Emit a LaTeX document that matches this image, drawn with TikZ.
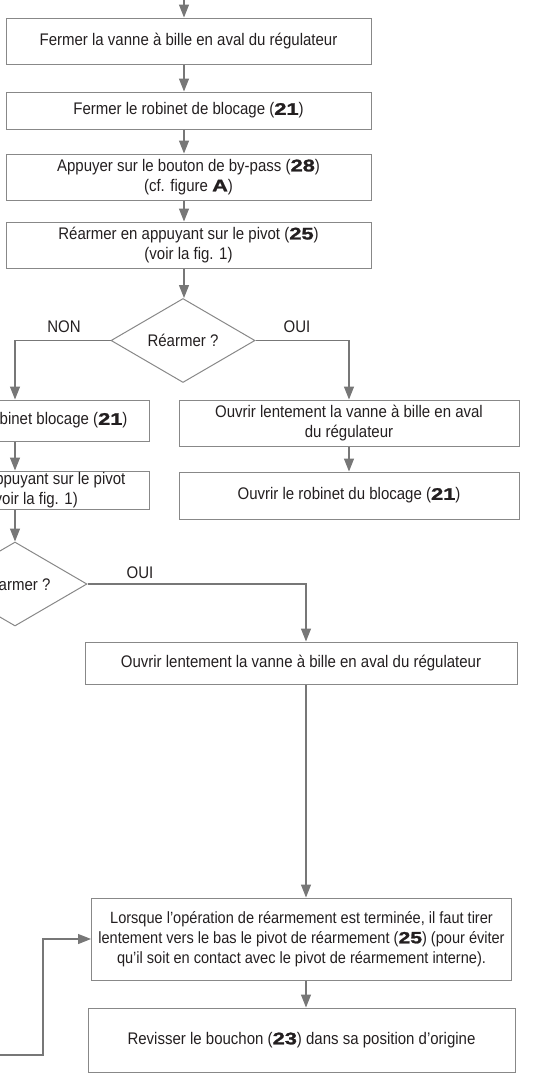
\documentclass[tikz,border=0pt]{standalone}
\usepackage{fontspec}
\setmainfont{Liberation Sans}[FakeStretch=0.893]
\newfontfamily\numfont{Liberation Sans}[FakeStretch=1.3,BoldFeatures={FakeBold=1.5}]
\usetikzlibrary{arrows.meta,shapes.geometric}
\newcommand{\nb}[1]{{\numfont\bfseries #1}}
\definecolor{linec}{HTML}{777777}
\definecolor{borderc}{HTML}{888888}
\definecolor{txtc}{HTML}{231F20}
\begin{document}
\begin{tikzpicture}[x=1pt,y=-1pt,
  txt/.style={text=txtc,font=\fontsize{16.8}{20}\selectfont},
  box/.style={txt,draw=borderc,line width=1pt,inner sep=0pt,align=center},
  dec/.style={txt,draw=borderc,line width=1pt,inner sep=0pt,diamond,minimum width=144pt,minimum height=84pt},
  arr/.style={draw=linec,line width=1.1pt,-{Triangle[length=13pt,width=10pt]}},
  lbl/.style={txt,inner sep=0pt}]
\useasboundingbox (0,0) rectangle (533,1082);
\clip (0,0) rectangle (533,1082);
% main column
\node[box,minimum width=365pt,minimum height=46pt] (b1) at (188.5,41) {Fermer la vanne à bille en aval du régulateur};
\node[box,minimum width=365pt,minimum height=37pt] (b2) at (188.5,110.5) {Fermer le robinet de blocage (\nb{21})};
\node[box,minimum width=365pt,minimum height=46pt] (b3) at (188.5,177) {Appuyer sur le bouton de by-pass (\nb{28})\\(cf. figure \nb{A})};
\node[box,minimum width=365pt,minimum height=46pt] (b4) at (188.5,245) {Réarmer en appuyant sur le pivot (\nb{25})\\(voir la fig. 1)};
\node[dec] (d1) at (183,340.5) {Réarmer ?};
\coordinate (top) at (184,-2);
% left column
\node[box,minimum width=246pt,minimum height=41pt,anchor=east] (lb1) at (150,420.5) {Ouvrir le robinet blocage (\nb{21})};
\node[box,minimum width=270pt,minimum height=38pt,anchor=east] (lb2) at (150,490) {Réarmer en appuyant sur le pivot\\(\nb{25}) (voir la fig. 1)};
\node[dec] (ld) at (15,584) {Réarmer ?};
% right column
\node[box,minimum width=340pt,minimum height=46pt] (rb1) at (349,423) {Ouvrir lentement la vanne à bille en aval\\du régulateur};
\node[box,minimum width=340pt,minimum height=47pt] (rb2) at (349,495.5) {Ouvrir le robinet du blocage (\nb{21})};
% lower part
\node[box,minimum width=432pt,minimum height=42pt] (b5) at (301,663) {Ouvrir lentement la vanne à bille en aval du régulateur};
\node[box,minimum width=420pt,minimum height=82pt,font=\fontsize{16.3}{20}\selectfont] (b6) at (301.5,939) {Lorsque l’opération de réarmement est terminée, il faut tirer\\lentement vers le bas le pivot de réarmement (\nb{25}) (pour éviter\\qu’il soit en contact avec le pivot de réarmement interne).};
\node[box,minimum width=427pt,minimum height=64pt] (b7) at (301.5,1040) {Revisser le bouchon (\nb{23}) dans sa position d’origine};
\coordinate (vc) at (306,700);
\coordinate (lin) at (-2,1055);
% labels
\node[lbl] (non) at (64,327) {NON};
\node[lbl] (oui1) at (297,327) {OUI};
\node[lbl] (oui2) at (140,572.5) {OUI};
% connectors
\draw[arr] (top) -- (top |- b1.north);
\draw[arr] (b1.south -| top) -- (b2.north -| top);
\draw[arr] (b2.south -| top) -- (b3.north -| top);
\draw[arr] (b3.south -| top) -- (b4.north -| top);
\draw[arr] (b4.south -| top) -- (d1.north -| top);
\draw[arr] (d1.west) -| (lb1.north -| ld.north);
\draw[arr] (lb1.south -| ld.north) -- (lb2.north -| ld.north);
\draw[arr] (lb2.south -| ld.north) -- (ld.north);
\draw[arr] (d1.east) -| (rb1.north);
\draw[arr] (rb1.south) -- (rb2.north);
\draw[arr] (ld.east) -| (b5.north -| vc);
\draw[arr] (b5.south -| vc) -- (b6.north -| vc);
\draw[arr] (b6.south -| vc) -- (b7.north -| vc);
\draw[arr] (lin) -- ++(45,0) |- (b6.west);
\end{tikzpicture}
\end{document}
